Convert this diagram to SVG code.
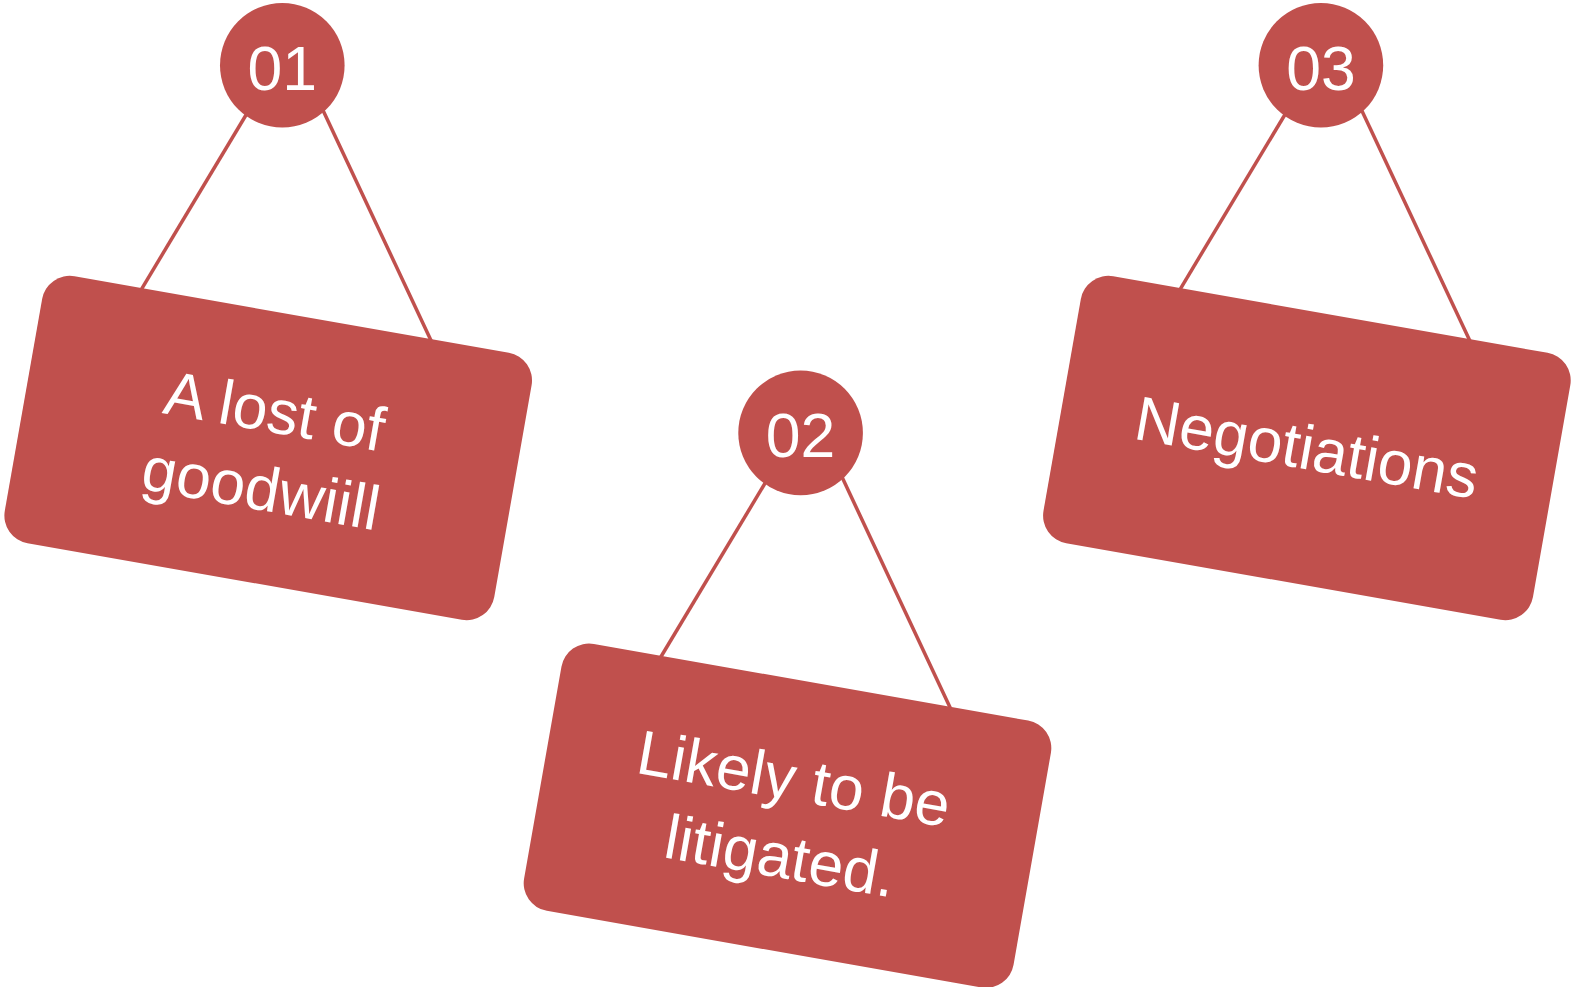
<svg xmlns="http://www.w3.org/2000/svg" width="1575" height="987" viewBox="0 0 1575 987">
<style>
.c{fill:#C0504D}
.ln{stroke:#C0504D;stroke-width:3.5;fill:none}
.num{fill:#fff;font-family:"Liberation Sans",Arial,sans-serif;font-size:62.5px;text-anchor:middle}
.lbl{fill:#fff;font-family:"Liberation Sans",Arial,sans-serif;font-size:62.5px;text-anchor:middle}
</style>
<defs>
<rect id="sign" x="-248.5" y="-135.5" width="497" height="271" rx="28" ry="28"/>
</defs>
<rect width="1575" height="987" fill="#fff"/>
<g id="connectors">
<line class="ln" x1="251.1" y1="106.5" x2="139.6" y2="292.3"/>
<line class="ln" x1="318.4" y1="100.5" x2="432.9" y2="344.5"/>
<line class="ln" x1="770.5" y1="474.1" x2="659" y2="660"/>
<line class="ln" x1="837.8" y1="468.1" x2="952.3" y2="712.2"/>
<line class="ln" x1="1289.8" y1="106.5" x2="1178.3" y2="292.3"/>
<line class="ln" x1="1357.1" y1="100.5" x2="1471.6" y2="344.5"/>
</g>
<g id="node1">
<circle class="c" cx="282.3" cy="65.3" r="62.3"/>
<text class="num" x="282.3" y="89.5">01</text>
<g transform="translate(268.2,448) rotate(10)">
<use href="#sign" class="c"/>
<text class="lbl" x="0" y="-16">A lost of</text>
<text class="lbl" x="0" y="62.5">goodwiill</text>
</g>
</g>
<g id="node2">
<circle class="c" cx="800.6" cy="432.9" r="62.3"/>
<text class="num" x="800.6" y="457.1">02</text>
<g transform="translate(787.5,815.7) rotate(10)">
<use href="#sign" class="c"/>
<text class="lbl" x="0" y="-16">Likely to be</text>
<text class="lbl" x="0" y="62.5">litigated.</text>
</g>
</g>
<g id="node3">
<circle class="c" cx="1320.9" cy="65.3" r="62.3"/>
<text class="num" x="1320.9" y="89.5">03</text>
<g transform="translate(1306.9,448) rotate(10)">
<use href="#sign" class="c"/>
<text class="lbl" x="0" y="21">Negotiations</text>
</g>
</g>
</svg>
